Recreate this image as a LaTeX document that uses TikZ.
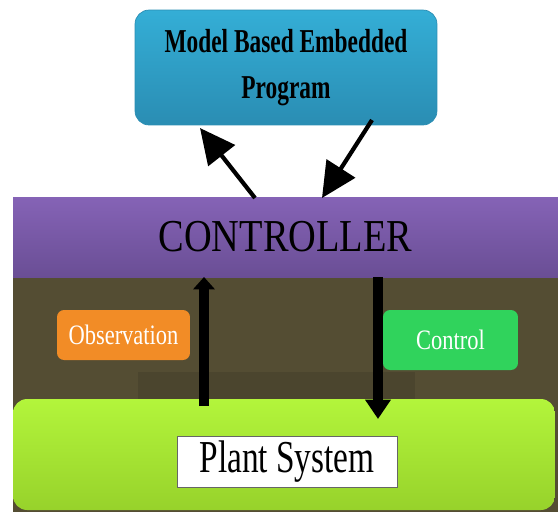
\documentclass[tikz,border=0pt]{standalone}
\usepackage{graphicx}
\usepackage{fontspec}
\setmainfont{Liberation Serif}
\usetikzlibrary{arrows.meta}
\definecolor{progblue}{HTML}{34AED6}
\definecolor{progdark}{HTML}{2A8DB3}
\definecolor{ctrlpurple}{HTML}{8563B6}
\definecolor{ctrldark}{HTML}{6A4E95}
\definecolor{olive}{HTML}{544D33}
\definecolor{oliveshade}{HTML}{4B452E}
\definecolor{obsorange}{HTML}{F28C26}
\definecolor{ctlgreen}{HTML}{30D35C}
\definecolor{plantgreen}{HTML}{B3F53B}
\definecolor{plantdark}{HTML}{97D22B}
\begin{document}
\begin{tikzpicture}[x=0.02cm,y=-0.02cm,
	bigarrow/.style={line width=2.4pt,-{Triangle[length=20pt,width=19pt]}},
	uparrow/.style={line width=5.6pt,-{Triangle[length=7pt,width=12pt]}},
	downarrow/.style={line width=5.6pt,-{Triangle[length=11pt,width=14pt]}},
	panel/.style={rounded corners=8pt,inner sep=0pt}]
		\useasboundingbox (0,0) rectangle (558,512);
		% background of the lower part
		\fill[olive] (13,277) rectangle (558,512);
		\fill[oliveshade] (138,372) rectangle (415,399);
		% boxes
		\node[panel,top color=progblue,bottom color=progdark,draw=progdark,minimum width=6.04cm,minimum height=2.3cm,align=center,font=\bfseries\fontsize{19}{26.5}\selectfont] (prog) at (286,67.5)
			{\scalebox{0.7}[1]{Model Based Embedded}\\\scalebox{0.7}[1]{Program}};
		\node[top color=ctrlpurple,bottom color=ctrldark,minimum width=10.9cm,minimum height=1.6cm,inner sep=0pt,font=\fontsize{26}{26}\selectfont] (ctrl) at (285.5,237)
			{\scalebox{0.84}[1]{CONTROLLER}};
		\node[panel,fill=obsorange,rounded corners=4pt,minimum width=2.66cm,minimum height=1.0cm,text=white,font=\fontsize{16}{16}\selectfont] (obs) at (123.5,335)
			{\scalebox{0.8}[1]{Observation}};
		\node[panel,fill=ctlgreen,rounded corners=4pt,minimum width=2.7cm,minimum height=1.2cm,text=white,font=\fontsize{16}{16}\selectfont] (ctl) at (450.5,340)
			{\scalebox{0.8}[1]{Control}};
		\node[panel,top color=plantgreen,bottom color=plantdark,minimum width=10.84cm,minimum height=2.22cm] (plant) at (284,454.5) {};
		\node[fill=white,draw=black!60,minimum width=4.4cm,minimum height=1.02cm,inner sep=0pt,font=\fontsize{26}{26}\selectfont] (plantlbl) at (287,461.5)
			{\scalebox{0.73}[1]{Plant System}};
		% arrow ends
		\coordinate (obsin) at (204,406);
		\coordinate (obsout) at (204,277);
		\coordinate (ctlin) at (378,277);
		\coordinate (ctlout) at (378,419);
		\coordinate (progin) at (200,128);
		\coordinate (progout) at (372,120);
		\coordinate (ctrlup) at (255,198);
		\coordinate (ctrldown) at (322,198);
		% arrows
		\draw[bigarrow] (ctrlup) -- (progin);
		\draw[bigarrow] (progout) -- (ctrldown);
		\draw[uparrow] (obsin) -- (obsout);
		\draw[downarrow] (ctlin) -- (ctlout);
	\end{tikzpicture}
\end{document}
